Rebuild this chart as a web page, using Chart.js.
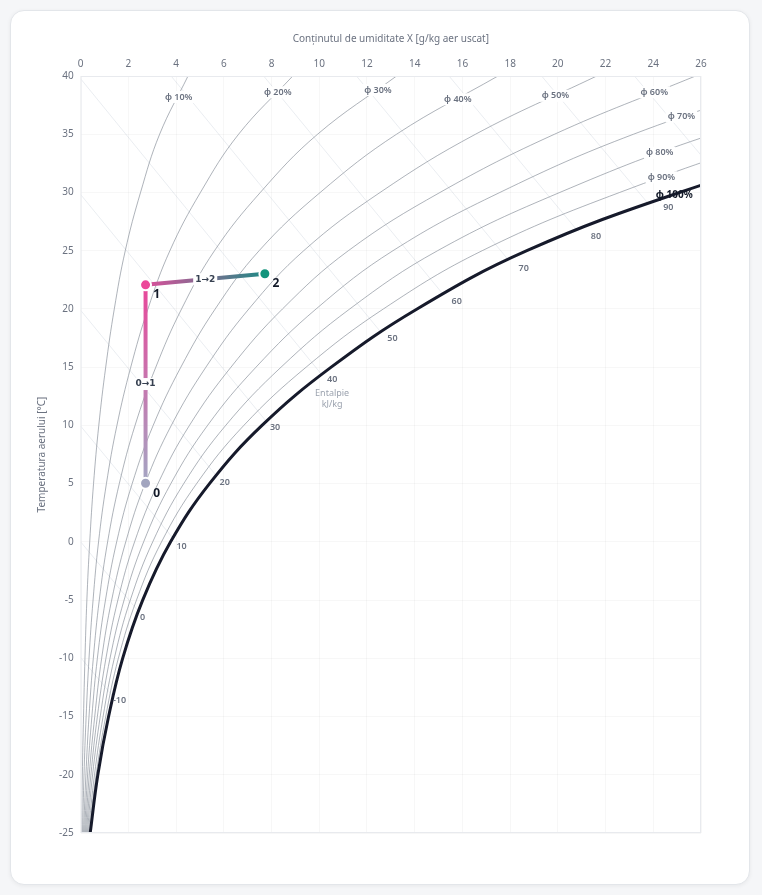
<!DOCTYPE html>
<html>
<head>
<meta charset="utf-8">
<script src="https://cdn.jsdelivr.net/npm/chart.js@4.4.1/dist/chart.umd.min.js"></script>
<style>
  html, body { margin: 0; padding: 0; background: #f5f6f8; }
  .card {
    position: absolute; left: 10px; top: 10px; width: 738px; height: 873px;
    background: #fff; border: 1px solid #e3e6ea; border-radius: 14px;
    box-shadow: 0 1px 4px rgba(0,0,0,0.06);
  }
  #wrap { position: absolute; left: 0; top: 0; width: 738px; height: 873px; }
</style>
</head>
<body>
<div class="card"><div id="wrap"><canvas id="psy"></canvas></div></div>
<script>
// temperature rows (°C) at which the humidity curves were read
const temps = [-25, -20, -15, -10, -5, 0, 5, 10, 15, 20, 25, 30, 35, 40];

// x [g/kg] of each relative humidity curve at the temps above
const rh10  = [0.04, 0.07, 0.12, 0.18, 0.26, 0.38, 0.54, 0.76, 1.05, 1.41, 1.87, 2.51, 3.31, 4.50];
const rh20  = [0.08, 0.14, 0.23, 0.35, 0.52, 0.75, 1.08, 1.52, 2.10, 2.82, 3.74, 5.02, 6.62, 8.89];
const rh30  = [0.12, 0.22, 0.35, 0.53, 0.78, 1.13, 1.62, 2.28, 3.15, 4.23, 5.61, 7.53, 9.93, 13.24];
const rh40  = [0.16, 0.29, 0.47, 0.70, 1.04, 1.51, 2.16, 3.04, 4.20, 5.64, 7.48, 10.04, 13.24, 17.49];
const rh50  = [0.20, 0.36, 0.59, 0.88, 1.30, 1.89, 2.70, 3.80, 5.25, 7.05, 9.35, 12.55, 16.55, 21.63];
const rh60  = [0.24, 0.43, 0.70, 1.06, 1.56, 2.26, 3.24, 4.56, 6.30, 8.46, 11.22, 15.06, 19.86, 25.77];
const rh70  = [0.28, 0.50, 0.82, 1.23, 1.82, 2.64, 3.78, 5.32, 7.35, 9.87, 13.09, 17.57, 23.17, 30.40];
const rh80  = [0.32, 0.58, 0.94, 1.41, 2.08, 3.02, 4.32, 6.08, 8.40, 11.28, 14.96, 20.08, 26.48, 34.80];
const rh90  = [0.36, 0.65, 1.05, 1.58, 2.34, 3.39, 4.86, 6.84, 9.45, 12.69, 16.83, 22.59, 29.79, 39.15];
const rh100 = [0.40, 0.72, 1.17, 1.76, 2.60, 3.77, 5.40, 7.60, 10.50, 14.10, 18.70, 25.10, 33.10, 43.50];

const rhLevels = ['φ 10%', 'φ 20%', 'φ 30%', 'φ 40%', 'φ 50%', 'φ 60%', 'φ 70%', 'φ 80%', 'φ 90%', 'φ 100%'];
const rhCurves = [rh10, rh20, rh30, rh40, rh50, rh60, rh70, rh80, rh90, rh100];
// where each φ label sits (x g/kg, t °C)
const rhLabelAt = [[4.11, 38.2], [8.26, 38.6], [12.46, 38.8], [15.81, 38.0], [19.9, 38.3],
                   [24.04, 38.6], [25.18, 36.5], [24.27, 33.4], [24.34, 31.3], [24.88, 29.8]];

// enthalpy lines [kJ/kg]: start and end (x, t)
const enthalpy  = [-10, 0, 10, 20, 30, 40, 50, 60, 70, 80, 90, 100];
const enthFrom  = [[0, -9.94], [0, 0], [0, 9.94], [0, 19.88], [0, 29.82], [0, 39.76],
                   [3.79, 40], [7.67, 40], [11.56, 40], [15.44, 40], [19.32, 40], [23.21, 40]];
const enthTo    = [[1.37, -13.31], [2.43, -6.0], [3.87, 0.31], [5.69, 5.67], [7.79, 10.32], [10.11, 14.34],
                   [12.61, 17.93], [15.21, 21.21], [17.94, 24.17], [20.84, 26.67], [23.81, 28.99], [26, 33.2]];
const enthLabelAt = [[1.63, -13.65], [2.59, -6.45], [4.23, -0.37], [6.04, 5.12], [8.15, 9.83], [10.54, 13.94],
                     [13.07, 17.45], [15.76, 20.62], [18.57, 23.45], [21.6, 26.2], [24.63, 28.68]];
const enthNoteAt = [10.54, 12.74];

// process states
const procNames = ['0', '1', '2'];
const procX = [2.72, 2.72, 7.72];
const procT = [5.03, 22.07, 23.02];
const procColors = ['#a2a5bf', '#ec4899', '#13947c'];
const stepNames = ['0→1', '1→2'];

const FONT = '"Noto Sans", "Open Sans", sans-serif';
Chart.defaults.font.family = FONT;

function segGradient(i, c0, c1) {
  return (c) => {
    const chart = c.chart;
    if (!chart.chartArea) return c0;
    const xs = chart.scales.x, ys = chart.scales.y;
    const g = chart.ctx.createLinearGradient(
      xs.getPixelForValue(procX[i]), ys.getPixelForValue(procT[i]),
      xs.getPixelForValue(procX[i + 1]), ys.getPixelForValue(procT[i + 1]));
    g.addColorStop(0, c0);
    g.addColorStop(1, c1);
    return g;
  };
}

const datasets = [];

// process points
datasets.push({
  data: procX.map((v, i) => ({ x: v, y: procT[i] })),
  showLine: false,
  pointRadius: 5.5,
  pointBackgroundColor: procColors,
  pointBorderColor: '#ffffff',
  pointBorderWidth: 2,
  order: 0
});
// process segments
datasets.push({
  data: [{ x: procX[0], y: procT[0] }, { x: procX[1], y: procT[1] }],
  showLine: true, pointRadius: 0, borderWidth: 4,
  borderColor: segGradient(0, '#a4a6c3', '#e8479a'),
  order: 1
});
datasets.push({
  data: [{ x: procX[1], y: procT[1] }, { x: procX[2], y: procT[2] }],
  showLine: true, pointRadius: 0, borderWidth: 4,
  borderColor: segGradient(1, '#dc4f9b', '#1f8a85'),
  order: 1
});
// relative humidity curves
rhCurves.forEach((arr, k) => {
  const sat = k === rhCurves.length - 1;
  datasets.push({
    data: arr.map((v, i) => ({ x: v, y: temps[i] })),
    showLine: true, pointRadius: 0, tension: 0.4,
    borderColor: sat ? '#161a2b' : 'rgba(120,128,140,0.6)',
    borderWidth: sat ? 3 : 1,
    order: sat ? 2 : 3
  });
});
// enthalpy lines
enthalpy.forEach((h, k) => {
  datasets.push({
    data: [{ x: enthFrom[k][0], y: enthFrom[k][1] }, { x: enthTo[k][0], y: enthTo[k][1] }],
    showLine: true, pointRadius: 0, borderWidth: 1,
    borderColor: 'rgba(148,163,184,0.2)',
    order: 4
  });
});

function boxText(ctx, text, px, py) {
  const w = ctx.measureText(text).width;
  ctx.fillStyle = '#ffffff';
  ctx.fillRect(px - w / 2 - 2, py - 6, w + 4, 12);
}

const overlay = {
  id: 'overlay',
  afterDatasetsDraw(chart) {
    const { ctx, chartArea: a, scales: { x, y } } = chart;
    ctx.save();
    ctx.strokeStyle = '#e8eaee';
    ctx.lineWidth = 1;
    ctx.strokeRect(a.left + 0.5, a.top + 0.5, a.right - a.left - 1, a.bottom - a.top - 1);

    ctx.textAlign = 'center';
    ctx.textBaseline = 'middle';

    // φ labels
    rhLevels.forEach((txt, k) => {
      const px = x.getPixelForValue(rhLabelAt[k][0]);
      const py = y.getPixelForValue(rhLabelAt[k][1]);
      const sat = k === rhLevels.length - 1;
      ctx.font = sat ? `bold 10px ${FONT}` : `600 9px ${FONT}`;
      if (!sat) boxText(ctx, txt, px, py);
      ctx.fillStyle = sat ? '#111827' : '#6b7280';
      ctx.fillText(txt, px, py);
    });

    // enthalpy labels
    ctx.font = `600 9px ${FONT}`;
    enthLabelAt.forEach((p, k) => {
      ctx.fillStyle = '#6b7280';
      ctx.fillText(String(enthalpy[k]), x.getPixelForValue(p[0]), y.getPixelForValue(p[1]));
    });
    ctx.font = `9px ${FONT}`;
    ctx.fillStyle = '#9ca3af';
    const nx = x.getPixelForValue(enthNoteAt[0]), ny = y.getPixelForValue(enthNoteAt[1]);
    ctx.fillText('Entalpie', nx, ny);
    ctx.fillText('kJ/kg', nx, ny + 11);

    // step labels
    ctx.font = '600 9px "DejaVu Sans", sans-serif';
    stepNames.forEach((txt, i) => {
      const px = (x.getPixelForValue(procX[i]) + x.getPixelForValue(procX[i + 1])) / 2;
      const py = (y.getPixelForValue(procT[i]) + y.getPixelForValue(procT[i + 1])) / 2;
      boxText(ctx, txt, px, py);
      ctx.fillStyle = '#374151';
      ctx.fillText(txt, px, py);
    });

    // state labels
    ctx.font = `bold 12px ${FONT}`;
    ctx.fillStyle = '#111827';
    procNames.forEach((txt, i) => {
      ctx.fillText(txt, x.getPixelForValue(procX[i]) + 11, y.getPixelForValue(procT[i]) + 10);
    });
    ctx.restore();
  }
};

new Chart(document.getElementById('psy'), {
  type: 'scatter',
  data: { datasets },
  options: {
    responsive: true,
    maintainAspectRatio: false,
    animation: false,
    layout: { padding: { left: 21, top: 18, right: 48, bottom: 51 } },
    plugins: { legend: { display: false }, tooltip: { enabled: false } },
    elements: { line: { capBezierPoints: false } },
    scales: {
      x: {
        type: 'linear', position: 'top', min: 0, max: 26,
        ticks: { stepSize: 2, color: '#6b7280', font: { size: 10 }, padding: 6 },
        grid: { color: 'rgba(15,23,42,0.035)', drawTicks: false },
        border: { display: false },
        title: { display: true, text: 'Conținutul de umiditate X [g/kg aer uscat]', color: '#6b7280',
                 font: { size: 10 }, padding: { top: 4, bottom: 7 } }
      },
      y: {
        type: 'linear', min: -25, max: 40,
        ticks: { stepSize: 5, color: '#6b7280', font: { size: 10 }, padding: 7 },
        grid: { color: 'rgba(15,23,42,0.035)', drawTicks: false },
        border: { display: false },
        title: { display: true, text: 'Temperatura aerului [°C]', color: '#6b7280',
                 font: { size: 10 }, padding: { top: 4, bottom: 4 } }
      }
    }
  },
  plugins: [overlay]
});
</script>
</body>
</html>
